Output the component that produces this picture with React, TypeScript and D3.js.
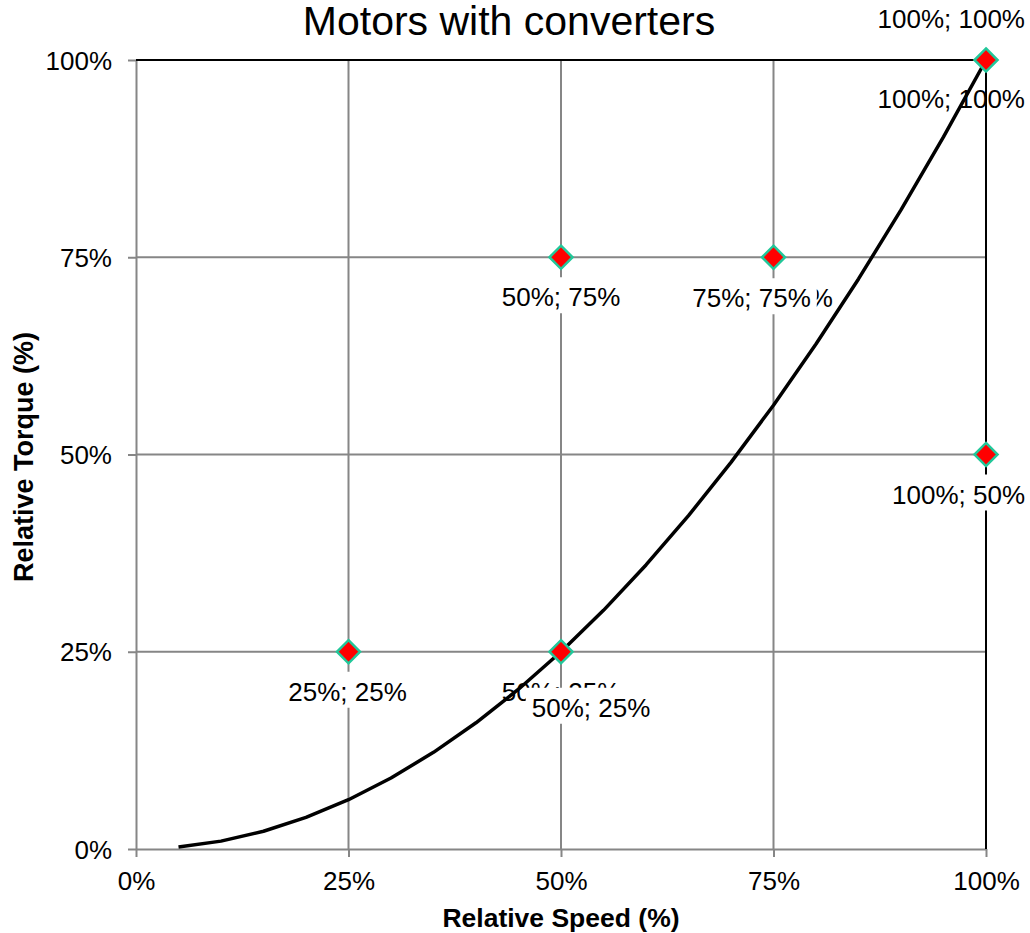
import React, { useEffect, useRef } from "react";
import * as d3 from "d3";

// ---- data ----
const curveSpeed = [5, 10, 15, 20, 25, 30, 35, 40, 45, 50, 55, 60, 65, 70, 75, 80, 85, 90, 95, 100];
const curveTorque = [0.25, 1, 2.25, 4, 6.25, 9, 12.25, 16, 20.25, 25, 30.25, 36, 42.25, 49, 56.25, 64, 72.25, 81, 90.25, 100];

const boundarySpeed = [0, 100, 100];
const boundaryTorque = [100, 100, 0];

const pointSpeed = [25, 50, 50, 75, 100, 100];
const pointTorque = [25, 25, 75, 75, 50, 100];

// labels of second (plain) series
const plainSpeed = [50, 75, 100];
const plainTorque = [25, 75, 100];

const xTicks = [0, 25, 50, 75, 100];
const yTicks = [0, 25, 50, 75, 100];

const title = "Motors with converters";
const xTitle = "Relative Speed (%)";
const yTitle = "Relative Torque (%)";

// ---- layout / style ----
const W = 1030;
const H = 933;
const M = { left: 136, right: 986, top: 60, bottom: 849 };
const FONT = "'Liberation Sans', Arial, Helvetica, sans-serif";
const GRID = "#868686";

// label placement (dx from point, baseline dy from point, anchor)
const boxedPlacement = [
  { dx: -1, dy: 49, anchor: "middle" },
  { dx: 30, dy: 65, anchor: "middle" },
  { dx: 0, dy: 49, anchor: "middle" },
  { dx: -22, dy: 50, anchor: "middle" },
  { dx: 39, dy: 49, anchor: "end" },
  { dx: 39, dy: -32, anchor: "end" },
];
const plainPlacement = [
  { dx: 0, dy: 49, anchor: "middle" },
  { dx: 0, dy: 50, anchor: "middle" },
  { dx: 39, dy: 48, anchor: "end" },
];

const fmt = (v: number) => `${v}%`;

export default function App() {
  const ref = useRef<SVGSVGElement>(null);

  useEffect(() => {
    const svg = d3.select(ref.current);
    svg.selectAll("*").remove();

    const x = d3.scaleLinear().domain([0, 100]).range([M.left, M.right]);
    const y = d3.scaleLinear().domain([0, 100]).range([M.bottom, M.top]);

    svg.append("rect").attr("width", W).attr("height", H).attr("fill", "#fff");

    // grid
    const g = svg.append("g");
    g.selectAll("line.gx")
      .data(xTicks.filter((t) => t > 0))
      .join("line")
      .attr("x1", (d) => x(d))
      .attr("x2", (d) => x(d))
      .attr("y1", M.top)
      .attr("y2", M.bottom)
      .attr("stroke", GRID)
      .attr("stroke-width", 2);
    g.selectAll("line.gy")
      .data(yTicks.filter((t) => t > 0))
      .join("line")
      .attr("class", "gy")
      .attr("x1", M.left)
      .attr("x2", M.right)
      .attr("y1", (d) => y(d))
      .attr("y2", (d) => y(d))
      .attr("stroke", GRID)
      .attr("stroke-width", 2);

    // axes
    const xAxis = d3.axisBottom(x).tickValues(xTicks).tickFormat((d) => fmt(+d)).tickSize(8).tickSizeOuter(0);
    const yAxis = d3.axisLeft(y).tickValues(yTicks).tickFormat((d) => fmt(+d)).tickSize(8).tickSizeOuter(0);
    const gx = svg.append("g").attr("transform", `translate(0,${M.bottom})`).call(xAxis);
    const gy = svg.append("g").attr("transform", `translate(${M.left},0)`).call(yAxis);
    [gx, gy].forEach((ax) => {
      ax.select(".domain").attr("stroke", GRID).attr("stroke-width", 2);
      ax.selectAll(".tick line").attr("stroke", GRID).attr("stroke-width", 2);
      ax.selectAll(".tick text")
        .attr("font-family", FONT)
        .attr("font-size", 26)
        .attr("fill", "#000");
    });
    gx.selectAll(".tick text").attr("dy", null).attr("y", 41);
    gy.selectAll(".tick text").attr("x", -24).attr("dy", "0.35em");

    // boundary line
    const lineGen = d3
      .line<number>()
      .x((d, i) => x(boundarySpeed[i]))
      .y((d) => y(d));
    svg.append("path")
      .attr("d", lineGen(boundaryTorque))
      .attr("fill", "none")
      .attr("stroke", "#000")
      .attr("stroke-width", 2);

    // curve
    const curveGen = d3
      .line<number>()
      .x((d, i) => x(curveSpeed[i]))
      .y((d) => y(d));
    svg.append("path")
      .attr("d", curveGen(curveTorque))
      .attr("fill", "none")
      .attr("stroke", "#000")
      .attr("stroke-width", 3.5)
      .attr("stroke-linejoin", "round");

    // plain labels
    plainSpeed.forEach((s, i) => {
      const p = plainPlacement[i];
      svg.append("text")
        .attr("x", x(s) + p.dx)
        .attr("y", y(plainTorque[i]) + p.dy)
        .attr("text-anchor", p.anchor)
        .attr("font-family", FONT)
        .attr("font-size", 26)
        .attr("fill", "#000")
        .text(`${fmt(s)}; ${fmt(plainTorque[i])}`);
    });

    // boxed labels
    pointSpeed.forEach((s, i) => {
      const p = boxedPlacement[i];
      const lg = svg.append("g");
      const bg = lg.append("rect").attr("fill", "#fff");
      const by = y(pointTorque[i]) + p.dy;
      const t = lg.append("text")
        .attr("x", x(s) + p.dx)
        .attr("y", by)
        .attr("text-anchor", p.anchor)
        .attr("font-family", FONT)
        .attr("font-size", 26)
        .attr("fill", "#000")
        .text(`${fmt(s)}; ${fmt(pointTorque[i])}`);
      const bb = (t.node() as SVGTextElement).getBBox();
      bg.attr("x", bb.x - 6).attr("y", by - 29).attr("width", bb.width + 12).attr("height", 36);
    });

    // markers
    const diamond = d3.symbol().type(d3.symbolDiamond2).size(340);
    svg.selectAll("path.pt")
      .data(pointSpeed)
      .join("path")
      .attr("class", "pt")
      .attr("d", diamond() as string)
      .attr("transform", (d, i) => `translate(${x(d)},${y(pointTorque[i])})`)
      .attr("fill", "#ff0000")
      .attr("stroke", "#22c79a")
      .attr("stroke-width", 2.5);

    // titles
    svg.append("text")
      .attr("x", 509)
      .attr("y", 35)
      .attr("text-anchor", "middle")
      .attr("font-family", FONT)
      .attr("font-size", 41)
      .attr("fill", "#000")
      .text(title);
    svg.append("text")
      .attr("x", (M.left + M.right) / 2)
      .attr("y", 927)
      .attr("text-anchor", "middle")
      .attr("font-family", FONT)
      .attr("font-size", 26.5)
      .attr("font-weight", "bold")
      .attr("fill", "#000")
      .text(xTitle);
    svg.append("text")
      .attr("transform", `translate(33,457) rotate(-90)`)
      .attr("text-anchor", "middle")
      .attr("font-family", FONT)
      .attr("font-size", 27)
      .attr("font-weight", "bold")
      .attr("fill", "#000")
      .text(yTitle);
  }, []);

  return (
    <div style={{ position: "absolute", left: 0, top: 0 }}>
      <svg ref={ref} width={W} height={H} style={{ display: "block" }} />
    </div>
  );
}
